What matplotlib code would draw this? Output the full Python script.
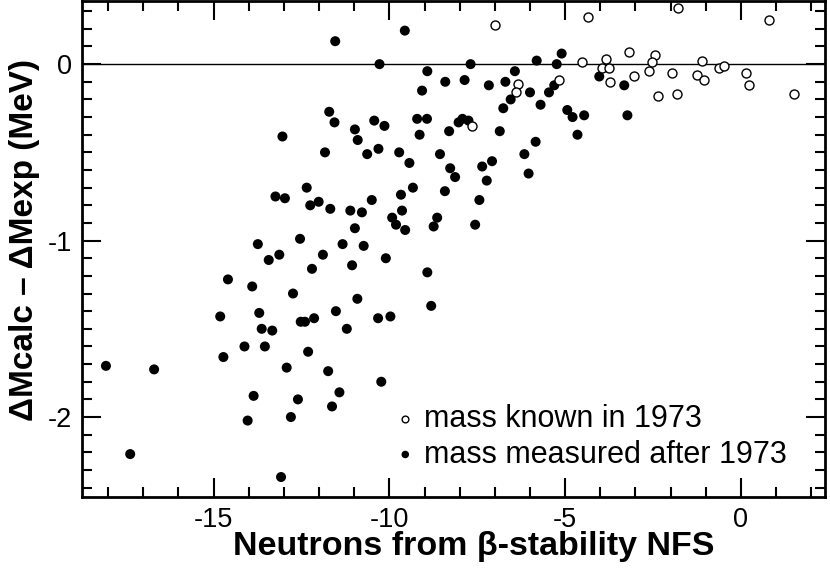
import matplotlib
matplotlib.use("Agg")
import matplotlib.pyplot as plt
from matplotlib.ticker import MultipleLocator

plt.rcParams["font.family"] = ["Liberation Sans", "DejaVu Sans"]
plt.rcParams["axes.unicode_minus"] = False

# masses measured after 1973 (filled)
after_nfs = [
    -11.54, -9.56, -10.28, -7.69, -5.81, -8.92, -6.43, -8.41, -7.86, -7.17,
    -6.70, -9.07, -6.00, -6.55, -6.76, -5.70, -11.71, -11.56, -13.04, -10.98,
    -10.90, -10.43, -10.14, -9.21, -8.93, -9.14, -7.92, -8.03, -7.75, -8.30,
    -6.86, -5.84, -11.83, -10.63, -10.31, -9.72, -9.43, -8.56, -6.16, -8.27,
    -8.13, -7.36, -7.08, -7.23, -6.04, -12.35, -13.24, -12.97, -12.25, -12.01,
    -11.68, -11.11, -10.78, -10.50, -9.67, -9.33, -8.42, -7.44, -9.64, -9.92,
    -9.81, -9.55, -8.64, -8.74, -7.56, -10.98, -12.54, -11.33, -10.73, -13.74,
    -13.43, -13.13, -11.89, -10.10, -12.20, -11.06, -8.92, -14.59, -13.90, -12.74,
    -10.91, -8.81, -14.81, -13.70, -13.63, -13.33, -12.52, -12.40, -12.14, -11.52,
    -11.21, -10.32, -9.97, -14.12, -13.54, -14.72, -18.06, -16.69, -12.31, -12.92,
    -11.74, -10.23, -13.86, -11.42, -12.60, -11.63, -12.80, -14.03, -17.37, -13.08,
    -5.10, -5.24, -4.03, -3.32, -5.31, -5.46, -4.94, -4.79, -4.46, -3.23,
    -4.65,
]
after_dm = [
    0.13, 0.19, 0.00, 0.00, 0.02, -0.04, -0.04, -0.10, -0.09, -0.12,
    -0.10, -0.15, -0.16, -0.20, -0.25, -0.23, -0.27, -0.33, -0.41, -0.37,
    -0.43, -0.32, -0.35, -0.31, -0.31, -0.40, -0.31, -0.33, -0.32, -0.38,
    -0.38, -0.44, -0.50, -0.51, -0.48, -0.50, -0.56, -0.51, -0.51, -0.59,
    -0.64, -0.58, -0.55, -0.66, -0.62, -0.70, -0.75, -0.76, -0.80, -0.78,
    -0.82, -0.83, -0.84, -0.77, -0.74, -0.70, -0.72, -0.77, -0.83, -0.87,
    -0.91, -0.94, -0.87, -0.92, -0.91, -0.93, -0.99, -1.02, -1.03, -1.02,
    -1.11, -1.08, -1.08, -1.10, -1.16, -1.14, -1.18, -1.22, -1.26, -1.30,
    -1.33, -1.37, -1.43, -1.41, -1.50, -1.51, -1.46, -1.46, -1.44, -1.40,
    -1.50, -1.44, -1.43, -1.60, -1.60, -1.66, -1.71, -1.73, -1.63, -1.72,
    -1.74, -1.80, -1.88, -1.86, -1.90, -1.94, -2.00, -2.02, -2.21, -2.34,
    0.06, 0.00, -0.07, -0.12, -0.12, -0.16, -0.26, -0.30, -0.29, -0.29,
    -0.40,
]

# masses already known in 1973 (open)
known_nfs = [
    -6.99, -6.35, -6.41, -7.65, -4.34, -1.80, 0.80, -4.53, -3.85, -3.96,
    -3.75, -3.72, -3.18, -3.05, -2.45, -2.53, -2.62, -2.37, -1.97, -1.83,
    -1.24, -1.05, -1.11, -0.62, -0.49, 0.15, 0.22, 1.52, -5.17,
]
known_dm = [
    0.22, -0.11, -0.16, -0.35, 0.27, 0.32, 0.25, 0.01, 0.03, -0.02,
    -0.02, -0.10, 0.07, -0.07, 0.05, 0.01, -0.04, -0.18, -0.05, -0.17,
    -0.06, -0.09, 0.02, -0.02, -0.01, -0.05, -0.12, -0.17, -0.09,
]

fig = plt.figure(figsize=(8.3, 5.74), dpi=100)
ax = fig.add_axes([0.0984, 0.1336, 0.8956, 0.8647])

ax.axhline(0, color="black", lw=1.0, zorder=1)
pts_after = ax.scatter(after_nfs, after_dm, s=52, c="black", edgecolors="none", zorder=2)
pts_known = ax.scatter(known_nfs, known_dm, s=42, facecolors="white",
                       edgecolors="black", linewidths=1.0, zorder=3)

ax.set_xlim(-18.75, 2.39)
ax.set_ylim(-2.455, 0.358)
ax.xaxis.set_major_locator(MultipleLocator(5))
ax.xaxis.set_minor_locator(MultipleLocator(1))
ax.yaxis.set_major_locator(MultipleLocator(1))
ax.yaxis.set_minor_locator(MultipleLocator(0.1))
ax.tick_params(which="both", direction="in", top=True, right=True,
               width=1.5, labelsize=19.5, pad=7)
ax.tick_params(which="major", length=13.5)
ax.tick_params(which="minor", length=7.5)
for sp in ax.spines.values():
    sp.set_linewidth(2)

ax.set_xlabel("Neutrons from \u03b2-stability NFS", fontsize=24.5, fontweight="bold")
ax.xaxis.set_label_coords(0.528, -0.068)
ax.set_ylabel("\u0394Mcalc \u2013 \u0394Mexp (MeV)", fontsize=24, fontweight="bold")
ax.yaxis.set_label_coords(-0.056, 0.519)

ax.legend([pts_known, pts_after], ["mass known in 1973", "mass measured after 1973"],
          loc="center left", bbox_to_anchor=(0.423, 0.122), frameon=False,
          fontsize=22, markerscale=0.75, handlelength=0.6, handletextpad=0.3,
          labelspacing=0.18, borderpad=0, borderaxespad=0)

fig.savefig("out.png", dpi=100)
